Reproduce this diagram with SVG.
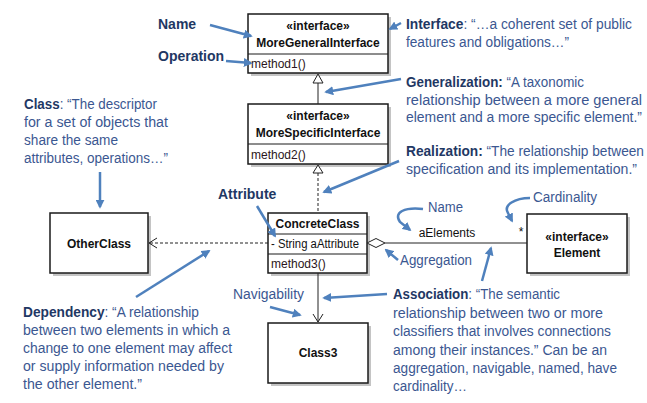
<svg xmlns="http://www.w3.org/2000/svg" width="647" height="403" viewBox="0 0 647 403">
<style>
.box{fill:#fff;stroke:#1a1a1a;stroke-width:1.5}
.shadow{fill:#c4c4c4}
.sep{stroke:#1a1a1a;stroke-width:1}
.ut{font-family:"Liberation Sans",Arial,sans-serif;font-size:12px;fill:#111}
.ub{font-family:"Liberation Sans",Arial,sans-serif;font-size:12px;font-weight:bold;fill:#111}
.op{font-family:"Liberation Sans",Arial,sans-serif;font-size:12px;fill:#2b1620}
.ln{stroke:#222;stroke-width:1;fill:none}
.dash{stroke:#222;stroke-width:1;fill:none;stroke-dasharray:3,2}
.an{font-family:"Liberation Sans",Arial,sans-serif;font-size:14px;fill:#3b5791}
.ab{font-weight:bold;fill:#1f3864}
.ba{stroke:#4f81bd;stroke-width:2.5;fill:none;marker-end:url(#ah)}
</style>
<defs>
<marker id="ah" viewBox="0 0 10 10" refX="8" refY="5" markerWidth="9" markerHeight="9" markerUnits="userSpaceOnUse" orient="auto">
<path d="M0,0 L10,5 L0,10 z" fill="#4f81bd"/>
</marker>
</defs>
<rect width="647" height="403" fill="#fff"/>

<g id="MoreGeneralInterface">
<rect class="shadow" x="251" y="17" width="140" height="59"/>
<rect class="box" x="248" y="14" width="140" height="59"/>
<line class="sep" x1="248" y1="54" x2="388" y2="54"/>
<text class="ub" x="318" y="30" text-anchor="middle">«interface»</text>
<text class="ub" x="318" y="47" text-anchor="middle">MoreGeneralInterface</text>
<text class="op" x="251" y="68">method1()</text>
</g>

<g id="MoreSpecificInterface">
<rect class="shadow" x="251" y="107" width="140" height="60"/>
<rect class="box" x="248" y="104" width="140" height="60"/>
<line class="sep" x1="248" y1="144" x2="388" y2="144"/>
<text class="ub" x="318" y="120" text-anchor="middle">«interface»</text>
<text class="ub" x="318" y="137" text-anchor="middle">MoreSpecificInterface</text>
<text class="op" x="251" y="159">method2()</text>
</g>

<g id="ConcreteClass">
<rect class="shadow" x="271" y="216" width="99" height="60"/>
<rect class="box" x="268" y="213" width="99" height="60"/>
<line class="sep" x1="268" y1="234" x2="367" y2="234"/>
<line class="sep" x1="268" y1="254" x2="367" y2="254"/>
<text class="ub" x="317.5" y="228" text-anchor="middle">ConcreteClass</text>
<text class="ut" x="271" y="248" textLength="88" lengthAdjust="spacingAndGlyphs">- String aAttribute</text>
<text class="op" x="271" y="268">method3()</text>
</g>

<g id="OtherClass">
<rect class="shadow" x="53" y="216" width="98" height="60"/>
<rect class="box" x="50" y="213" width="98" height="60"/>
<text class="ub" x="99" y="248" text-anchor="middle">OtherClass</text>
</g>

<g id="Element">
<rect class="shadow" x="530" y="217" width="100" height="59"/>
<rect class="box" x="527" y="214" width="100" height="59"/>
<text class="ub" x="577" y="241" text-anchor="middle">«interface»</text>
<text class="ub" x="577" y="257" text-anchor="middle">Element</text>
</g>

<g id="Class3">
<rect class="shadow" x="271" y="326" width="100" height="60"/>
<rect class="box" x="268" y="323" width="100" height="60"/>
<text class="ub" x="318" y="357" text-anchor="middle">Class3</text>
</g>

<g id="connectors">
<line class="ln" x1="318" y1="83" x2="318" y2="104"/>
<path d="M318,74 L323,83 L313,83 z" fill="#fff" stroke="#222" stroke-width="1"/>
<line class="dash" x1="318" y1="173" x2="318" y2="213"/>
<path d="M318,165 L323,173 L313,173 z" fill="#fff" stroke="#222" stroke-width="1"/>
<line class="dash" x1="268" y1="243" x2="149" y2="243"/>
<path class="ln" d="M157,238 L149,243 L157,248"/>
<line class="ln" x1="385" y1="243" x2="527" y2="243"/>
<path d="M367,243 L376,238.5 L385,243 L376,247.5 z" fill="#fff" stroke="#222" stroke-width="1"/>
<line class="ln" x1="318" y1="273" x2="318" y2="322"/>
<path class="ln" d="M313,314 L318,322 L323,314"/>
<text class="ut" x="447" y="237" text-anchor="middle">aElements</text>
<text class="ut" x="521" y="236" text-anchor="middle">*</text>
</g>

<g id="annotations">
<text class="an ab" x="158" y="29" font-size="13">Name</text>
<line class="ba" x1="210" y1="25" x2="251" y2="36"/>
<text class="an ab" x="158" y="61" font-size="13">Operation</text>
<line class="ba" x1="226" y1="61" x2="251" y2="63"/>

<text class="an" x="406" y="29" textLength="226" lengthAdjust="spacingAndGlyphs"><tspan class="ab">Interface</tspan>: “…a coherent set of public</text>
<text class="an" x="406" y="47" textLength="163" lengthAdjust="spacingAndGlyphs">features and obligations…”</text>
<line class="ba" x1="401" y1="23" x2="390" y2="29"/>

<text class="an" x="406" y="87" textLength="178" lengthAdjust="spacingAndGlyphs"><tspan class="ab">Generalization:</tspan>  “A taxonomic</text>
<text class="an" x="406" y="105" textLength="236" lengthAdjust="spacingAndGlyphs">relationship between a more general</text>
<text class="an" x="406" y="122" textLength="236" lengthAdjust="spacingAndGlyphs">element and a more specific element.”</text>
<line class="ba" x1="401" y1="79" x2="326" y2="92"/>

<text class="an" x="24" y="109" textLength="133" lengthAdjust="spacingAndGlyphs"><tspan class="ab">Class</tspan>: “The descriptor</text>
<text class="an" x="24" y="127" textLength="144" lengthAdjust="spacingAndGlyphs">for a set of objects that</text>
<text class="an" x="24" y="145" textLength="94" lengthAdjust="spacingAndGlyphs">share the same</text>
<text class="an" x="24" y="163" textLength="144" lengthAdjust="spacingAndGlyphs">attributes, operations…”</text>
<line class="ba" x1="100" y1="172" x2="100" y2="207"/>

<text class="an" x="406" y="156" textLength="238" lengthAdjust="spacingAndGlyphs"><tspan class="ab">Realization:</tspan> “The relationship between</text>
<text class="an" x="406" y="174" textLength="231" lengthAdjust="spacingAndGlyphs">specification and its implementation.”</text>
<line class="ba" x1="399" y1="161" x2="324" y2="192"/>

<text class="an ab" x="218" y="199" font-size="13">Attribute</text>
<line class="ba" x1="257" y1="206" x2="275" y2="236"/>

<text class="an" x="428" y="212" textLength="35" lengthAdjust="spacingAndGlyphs">Name</text>
<path class="ba" d="M423,209 C405,207 393,212 400,222 L410,230"/>

<text class="an" x="533" y="202" textLength="64" lengthAdjust="spacingAndGlyphs">Cardinality</text>
<path class="ba" d="M530,198 C515,198 503,205 508,213 L512,221"/>

<text class="an" x="400" y="265" textLength="72" lengthAdjust="spacingAndGlyphs">Aggregation</text>
<line class="ba" x1="398" y1="260" x2="386" y2="250"/>

<line class="ba" x1="482" y1="281" x2="491" y2="248"/>

<text class="an" x="233" y="299" textLength="71" lengthAdjust="spacingAndGlyphs">Navigability</text>
<line class="ba" x1="270" y1="307" x2="300" y2="315"/>

<text class="an" x="393" y="299" textLength="167" lengthAdjust="spacingAndGlyphs"><tspan class="ab">Association</tspan>:  “The semantic</text>
<text class="an" x="393" y="318" textLength="210" lengthAdjust="spacingAndGlyphs">relationship between two or more</text>
<text class="an" x="393" y="336" textLength="218" lengthAdjust="spacingAndGlyphs">classifiers that involves connections</text>
<text class="an" x="393" y="355" textLength="214" lengthAdjust="spacingAndGlyphs">among their instances.”  Can be an</text>
<text class="an" x="393" y="373" textLength="224" lengthAdjust="spacingAndGlyphs">aggregation, navigable, named, have</text>
<text class="an" x="393" y="391" textLength="74" lengthAdjust="spacingAndGlyphs">cardinality…</text>
<line class="ba" x1="387" y1="294" x2="324" y2="298"/>

<text class="an" x="23" y="317" textLength="176" lengthAdjust="spacingAndGlyphs"><tspan class="ab">Dependency</tspan>: “A relationship</text>
<text class="an" x="23" y="335" textLength="207" lengthAdjust="spacingAndGlyphs">between two elements in which a</text>
<text class="an" x="23" y="353" textLength="209" lengthAdjust="spacingAndGlyphs">change to one element may affect</text>
<text class="an" x="23" y="371" textLength="201" lengthAdjust="spacingAndGlyphs">or supply information needed by</text>
<text class="an" x="23" y="389" textLength="119" lengthAdjust="spacingAndGlyphs">the other element.”</text>
<line class="ba" x1="136" y1="297" x2="209" y2="251"/>
</g>
</svg>
